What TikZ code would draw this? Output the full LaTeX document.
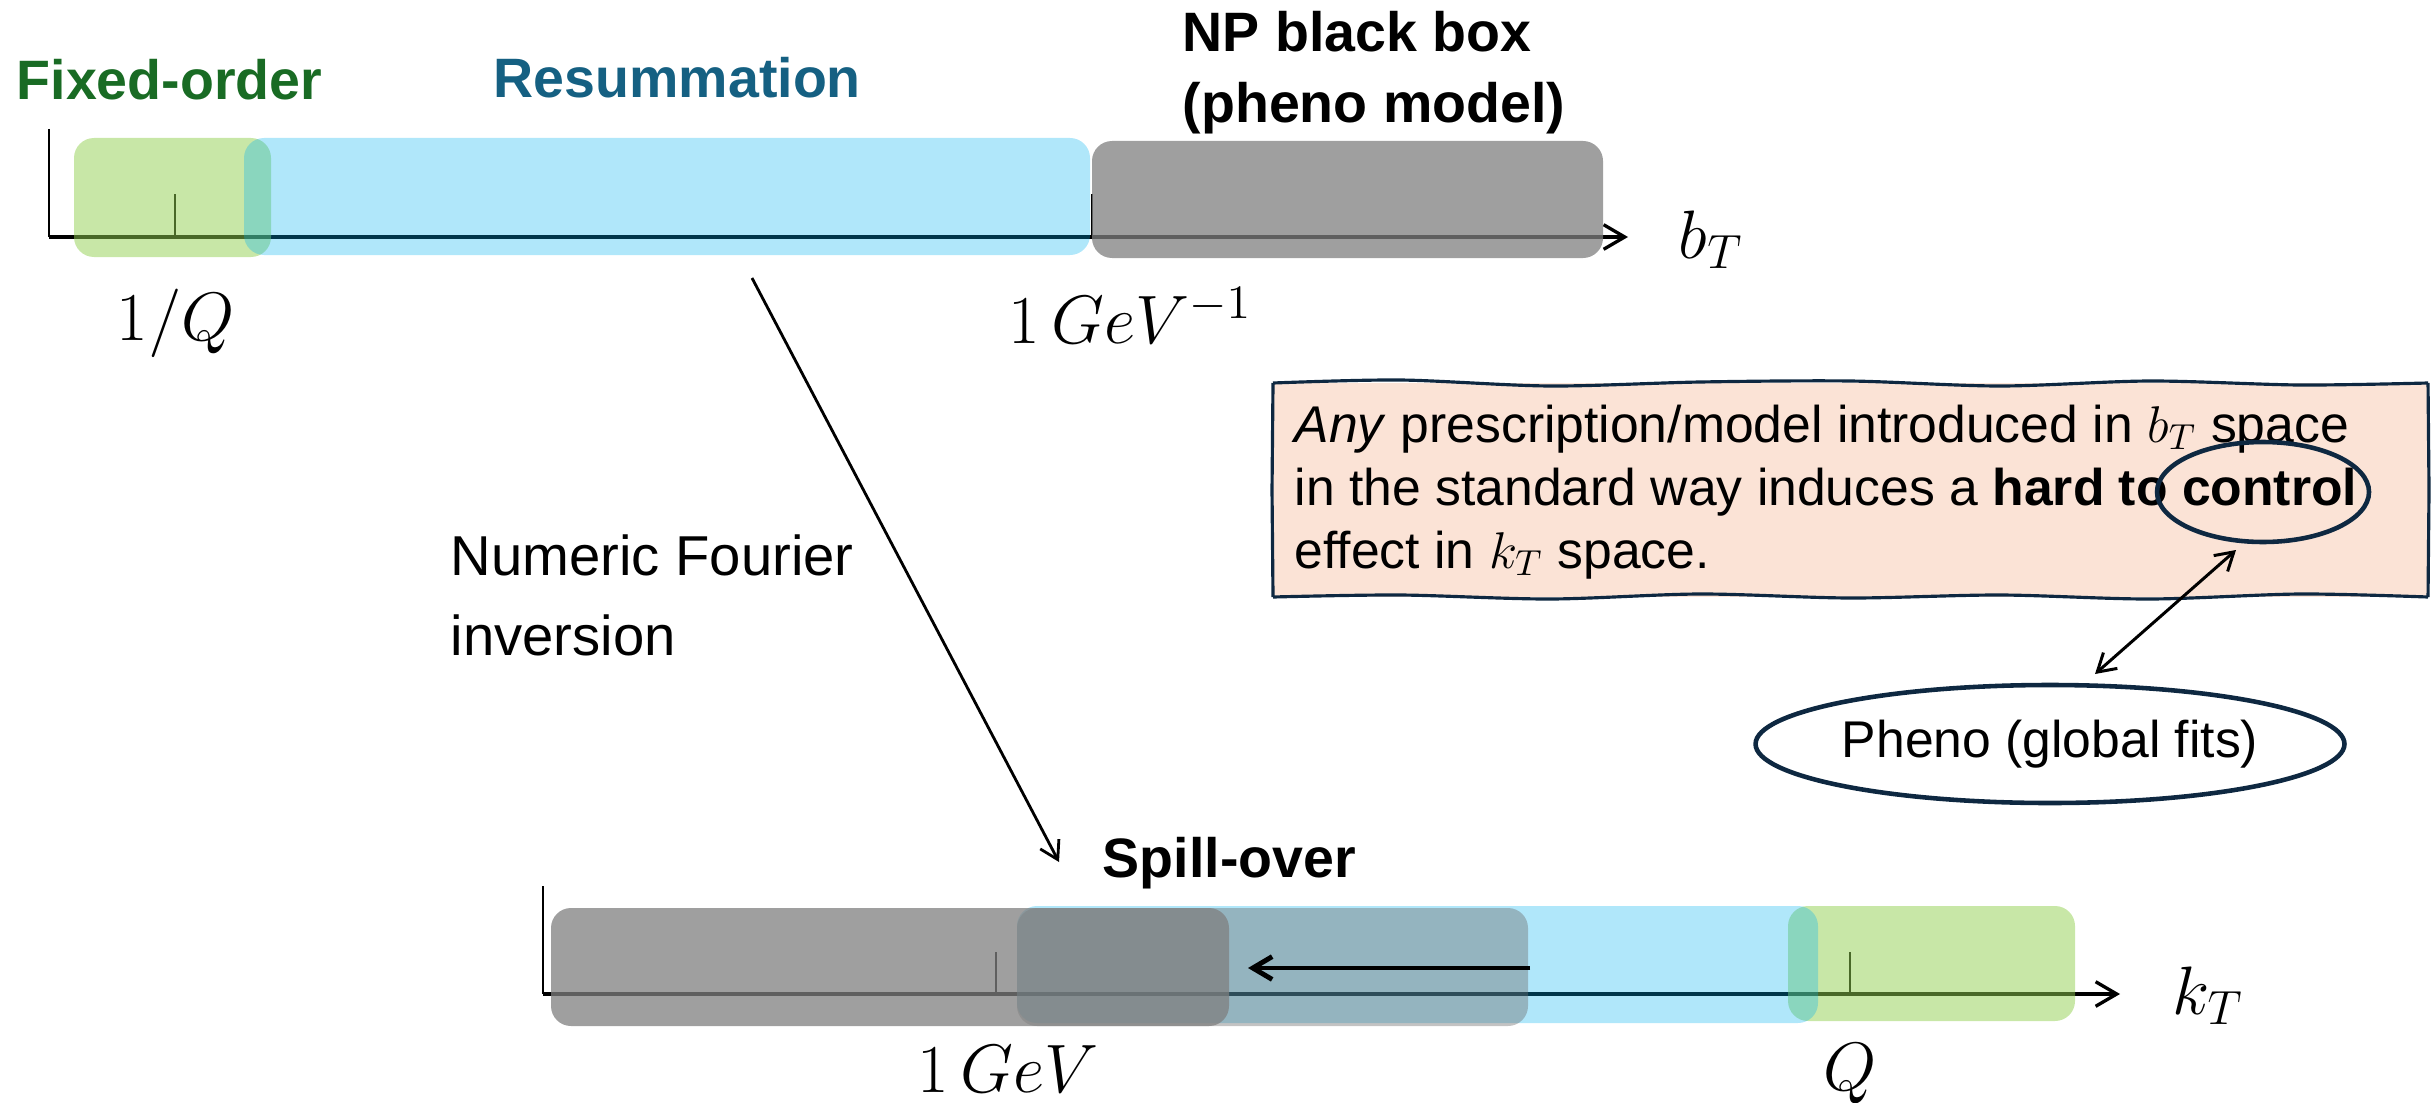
\RequirePackage{fix-cm}
\documentclass[tikz,border=0pt]{standalone}
\usepackage[no-math]{fontspec}
\setmainfont{Liberation Sans}
\usetikzlibrary{arrows.meta,shapes.geometric}
\definecolor{fogreen}{HTML}{196B24}
\definecolor{resblue}{HTML}{156082}
\definecolor{navy}{HTML}{0E2841}
\definecolor{peach}{HTML}{FBE3D6}
\definecolor{barblue}{HTML}{00B0F0}
\definecolor{bargreen}{HTML}{92D050}
\definecolor{bargray}{HTML}{7F7F7F}
\definecolor{ovgray}{HTML}{6F6F6F}
\tikzset{
  axisline/.style={line width=0.95pt, -{Straight Barb[length=6pt,width=7pt,line width=0.95pt]}},
  vline/.style={line width=0.6pt},
  tickline/.style={line width=0.5pt},
  greenbar/.style={fill=bargreen, fill opacity=0.5, rounded corners=2mm},
  bluebar/.style={fill=barblue, fill opacity=0.31, rounded corners=2mm},
  graybar/.style={fill=bargray, fill opacity=0.75, rounded corners=2mm},
  ovbar/.style={fill=ovgray, fill opacity=0.42, rounded corners=2mm},
  boldlbl/.style={font=\fontsize{15.8pt}{19pt}\selectfont\bfseries, inner sep=0},
  mathlbl/.style={font=\fontsize{19.5pt}{23pt}\selectfont, inner sep=0},
  bodytxt/.style={font=\fontsize{14.7pt}{18pt}\selectfont, inner sep=0},
  sidetxt/.style={font=\fontsize{16pt}{19pt}\selectfont, inner sep=0},
  ring/.style={draw=navy, line width=1.3pt, ellipse, inner sep=0},
  thinarrow/.style={line width=0.8pt, -{Straight Barb[length=5pt,width=6pt,line width=0.8pt]}},
  dblarrow/.style={line width=0.85pt, {Straight Barb[length=5pt,width=6pt,line width=0.85pt]}-{Straight Barb[length=5pt,width=6pt,line width=0.85pt]}},
  boldarrow/.style={line width=1.4pt, -{Straight Barb[length=5.5pt,width=6.5pt,line width=1.4pt]}},
  sketch/.style={draw=navy, line width=0.9pt, line join=round},
}
\begin{document}
\begin{tikzpicture}[x=0.1mm,y=-0.1mm]
\useasboundingbox (0,0) rectangle (2435,1102);
% ---------- top axis (b_T) ----------
\draw[vline] (49,129) -- (49,237);
\coordinate (bt0) at (49,237);
\coordinate (bt1) at (1628,237);
\draw[axisline] (bt0) -- (bt1);
\draw[tickline] (175,237) -- (175,194);
\draw[tickline] (1092,237) -- (1092,194);
\fill[greenbar] (74,138) rectangle (271,257);
\fill[bluebar] (244,138) rectangle (1090,255);
\fill[graybar] (1092,141) rectangle (1603,258);
\node[mathlbl, anchor=base west] (bT) at (1678,258) {$b_T$};
\node[mathlbl, anchor=base] (invQ) at (176,340) {$1/Q$};
\node[mathlbl, anchor=base] (invGeV) at (1130,343) {$1\,GeV^{-1}$};
\node[boldlbl, text=fogreen, anchor=base west] (fo) at (16,100) {Fixed-order};
\node[boldlbl, text=resblue, anchor=base west] (res) at (493,98) {Resummation};
\node[boldlbl, anchor=base west] (np1) at (1182,52) {NP black box};
\node[boldlbl, anchor=base west] (np2) at (1182,122) {(pheno model)};
% ---------- Fourier arrow ----------
\coordinate (f1) at (752,278);
\coordinate (f2) at (1059,862);
\draw[thinarrow] (f1) -- (f2);
\node[sidetxt, anchor=base west] (nf1) at (450,575) {Numeric Fourier};
\node[sidetxt, anchor=base west] (nf2) at (450,655) {inversion};
% ---------- note box ----------
\fill[peach] (1273,383) rectangle (2428,597);
\node[bodytxt, anchor=base west] (l1) at (1294,442) {\textit{Any} prescription/model introduced in $b_T$ space};
\node[bodytxt, anchor=base west] (l2) at (1294,505) {in the standard way induces a \textbf{hard to control}};
\node[bodytxt, anchor=base west] (l3) at (1294,568) {effect in $k_T$ space.};
\draw[sketch] plot[smooth] coordinates {(1273,383) (1400,380) (1550,386) (1700,382) (1850,381) (2000,386) (2150,381) (2300,385) (2428,383)};
\draw[sketch] (2428,383) -- (2429,490) -- (2428,597);
\draw[sketch] plot[smooth] coordinates {(2428,597) (2300,594) (2150,599) (2000,595) (1850,598) (1700,594) (1550,599) (1400,595) (1273,597)};
\draw[sketch] (1273,597) -- (1272,490) -- (1273,383);
\node[ring, minimum width=21.2mm, minimum height=10mm] (ctrl) at (2263,492) {};
\node[ring, bodytxt, minimum width=52.6mm, minimum height=11.8mm] (pheno) at (2050,744) {Pheno (global fits)};
\coordinate (a1) at (2095,674);
\coordinate (a2) at (2236,550);
\draw[dblarrow] (a1) -- (a2);
% ---------- bottom axis (k_T) ----------
\draw[vline] (543,886) -- (543,994);
\coordinate (kt0) at (543,994);
\coordinate (kt1) at (2120,994);
\draw[axisline] (kt0) -- (kt1);
\draw[tickline] (996,994) -- (996,952);
\draw[tickline] (1850,994) -- (1850,952);
\fill[greenbar] (1788,906) rectangle (2075,1021);
\fill[bluebar] (1017,906) rectangle (1818,1023);
\fill[ovbar] (1017,908) rectangle (1528,1026);
\fill[graybar] (551,908) rectangle (1229,1026);
\coordinate (s1) at (1530,968);
\coordinate (s2) at (1248,968);
\draw[boldarrow] (s1) -- (s2);
\node[boldlbl, anchor=base west] (spill) at (1102,877) {Spill-over};
\node[mathlbl, anchor=base] (GeV) at (1008,1092) {$1\,GeV$};
\node[mathlbl, anchor=base] (Qlbl) at (1850,1090) {$Q$};
\node[mathlbl, anchor=base west] (kT) at (2172,1014) {$k_T$};
\end{tikzpicture}
\end{document}
